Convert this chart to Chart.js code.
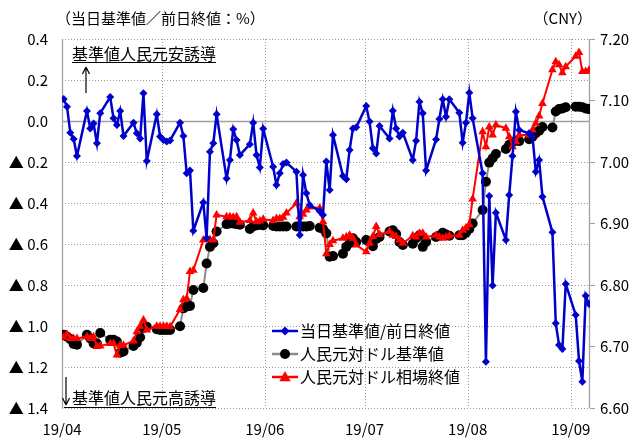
<!DOCTYPE html>
<html lang="ja">
<head>
<meta charset="UTF-8">
<title>人民元基準値と相場</title>
<script src="https://cdn.jsdelivr.net/npm/chart.js"></script>
<style>
  html, body { margin: 0; padding: 0; background: #fff; }
  #wrap { position: relative; width: 637px; height: 439px; }
</style>
</head>
<body>
<div id="wrap"><canvas id="myChart" width="637" height="439"></canvas></div>
<script>
// 営業日 (2019年)
const fechas = [
  '04/01','04/02','04/03','04/04','04/05', '04/08','04/09','04/10','04/11','04/12',
  '04/15','04/16','04/17','04/18','04/19', '04/22','04/23','04/24','04/25','04/26',
  '04/29','04/30','05/01','05/02','05/03', '05/06','05/07','05/08','05/09','05/10',
  '05/13','05/14','05/15','05/16','05/17', '05/20','05/21','05/22','05/23','05/24',
  '05/27','05/28','05/29','05/30','05/31', '06/03','06/04','06/05','06/06','06/07',
  '06/10','06/11','06/12','06/13','06/14', '06/17','06/18','06/19','06/20','06/21',
  '06/24','06/25','06/26','06/27','06/28', '07/01','07/02','07/03','07/04','07/05',
  '07/08','07/09','07/10','07/11','07/12', '07/15','07/16','07/17','07/18','07/19',
  '07/22','07/23','07/24','07/25','07/26', '07/29','07/30','07/31','08/01','08/02',
  '08/05','08/06','08/07','08/08','08/09', '08/12','08/13','08/14','08/15','08/16',
  '08/19','08/20','08/21','08/22','08/23', '08/26','08/27','08/28','08/29','08/30',
  '09/02','09/03','09/04','09/05','09/06'
];

// 当日基準値/前日終値 (%)
const kijunVsZenjitsu = [
  0.107, 0.07, -0.057, -0.088, -0.171,   0.049, -0.036, -0.012, -0.109, 0.038,
  0.117, 0.013, -0.02, 0.049, -0.073,    -0.008, -0.06, -0.085, 0.135, -0.195,
  0.033, -0.075, -0.093, -0.1, -0.095,   -0.008, -0.073, -0.255, -0.242, -0.535,
  -0.397, -0.572, -0.15, -0.109, 0.033,  -0.28, -0.19, -0.04, -0.093, -0.166,
  -0.113, -0.008, -0.166, -0.227, -0.038, -0.223, -0.312, -0.255, -0.21, -0.203,
  -0.247, -0.556, -0.263, -0.353, -0.41, -0.44, -0.459, -0.198, -0.337, -0.068,
  -0.268, -0.284, -0.141, -0.036, -0.031, 0.073, -0.003, -0.133, -0.158, -0.024,
  -0.085, 0.05, -0.036, -0.076, -0.057,  -0.19, -0.096, 0.094, 0.038, -0.242,
  -0.09, 0.01, 0.106, 0.021, 0.106,      0.04, -0.106, -0.008, 0.138, 0.013,
  -0.255, -1.174, -0.366, -0.803, -0.447, -0.58, -0.361, -0.171, 0.045, -0.044,
  -0.06, -0.076, -0.247, -0.19, -0.369,  -0.543, -0.987, -1.093, -1.112, -0.795,
  -0.946, -1.171, -1.272, -0.852, -0.893
];

// 人民元対ドル基準値 (CNY)
const kijunchi = [
  6.719, 6.716, 6.712, 6.704, 6.703,  6.719, 6.713, 6.705, 6.705, 6.722,
  6.711, 6.711, 6.708, 6.690, 6.692,  6.701, 6.706, 6.715, 6.730, 6.732,
  6.728, 6.727, 6.727, 6.727, 6.727,  6.733, 6.762, 6.765, 6.766, 6.792,
  6.795, 6.835, 6.862, 6.868, 6.887,  6.899, 6.900, 6.900, 6.899, 6.898,
  6.891, 6.895, 6.897, 6.898, 6.897,  6.896, 6.895, 6.895, 6.895, 6.895,
  6.895, 6.895, 6.895, 6.895, 6.896,  6.893, 6.891, 6.884, 6.846, 6.847,
  6.851, 6.862, 6.868, 6.876, 6.870,  6.873, 6.870, 6.863, 6.875, 6.878,
  6.887, 6.889, 6.883, 6.870, 6.865,  6.867, 6.876, 6.881, 6.862, 6.870,
  6.878, 6.880, 6.885, 6.882, 6.880,  6.881, 6.881, 6.885, 6.891, 6.900,
  6.922, 6.968, 6.999, 7.006, 7.013,  7.021, 7.028, 7.032, 7.035, 7.034,
  7.037, 7.041, 7.047, 7.051, 7.057,  7.056, 7.082, 7.086, 7.087, 7.089,
  7.090, 7.090, 7.089, 7.087, 7.086
];

// 人民元対ドル相場終値 (CNY)
const owarine = [
  6.715, 6.720, 6.713, 6.713, 6.713,  6.716, 6.713, 6.716, 6.700, 6.701,
  6.705, 6.705, 6.686, 6.702, 6.702,  6.709, 6.724, 6.733, 6.743, 6.727,
  6.733, 6.733, 6.733, 6.733, 6.732,  6.760, 6.776, 6.778, 6.822, 6.824,
  6.873, 6.876, 6.874, 6.873, 6.914,  6.911, 6.911, 6.910, 6.911, 6.902,
  6.905, 6.917, 6.903, 6.904, 6.907,  6.905, 6.908, 6.908, 6.910, 6.917,
  6.933, 6.911, 6.915, 6.922, 6.927,  6.925, 6.903, 6.851, 6.866, 6.872,
  6.876, 6.878, 6.881, 6.876, 6.865,  6.854, 6.868, 6.879, 6.895, 6.882,
  6.887, 6.881, 6.879, 6.873, 6.868,  6.880, 6.878, 6.884, 6.884, 6.878,
  6.881, 6.878, 6.876, 6.878, 6.880,  6.881, 6.889, 6.893, 6.898, 6.940,
  7.049, 7.025, 7.057, 7.044, 7.060,  7.055, 7.041, 7.025, 7.033, 7.044,
  7.044, 7.052, 7.063, 7.075, 7.095,  7.150, 7.163, 7.158, 7.145, 7.155,
  7.172, 7.178, 7.147, 7.147, 7.149
];

// 目盛 (月初)
const mesesFechas = ['04/01', '05/01', '06/01', '07/01', '08/01', '09/01'];
const mesesLabels = ['19/04', '19/05', '19/06', '19/07', '19/08', '19/09'];

const nombres = ['当日基準値/前日終値', '人民元対ドル基準値', '人民元対ドル相場終値'];

// 4/1 からの日数
function diaDesde(f) {
  const mm = parseInt(f.slice(0, 2), 10);
  const dd = parseInt(f.slice(3, 5), 10);
  return (Date.UTC(2019, mm - 1, dd) - Date.UTC(2019, 3, 1)) / 86400000;
}
const xs = fechas.map(f => diaDesde(f) + 0.5);
const mesesX = mesesFechas.map(diaDesde);

function puntos(vals) {
  return vals.map((v, i) => ({ x: xs[i], y: v }));
}

const AZUL = '#0000cc';
const GRIS = '#8c8c8c';
const ROJO = '#ff0000';
const REJILLA = '#9a9a9a';
const FUENTE = '"Noto Sans CJK JP", "Noto Sans", sans-serif';

Chart.defaults.font.family = FUENTE;
Chart.defaults.font.size = 15;
Chart.defaults.color = '#000';

function marcador(ctx, tipo, x, y, r, color) {
  ctx.save();
  ctx.fillStyle = color;
  ctx.beginPath();
  if (tipo === 'rectRot') {
    ctx.moveTo(x, y - r); ctx.lineTo(x + r, y); ctx.lineTo(x, y + r); ctx.lineTo(x - r, y);
  } else if (tipo === 'circle') {
    ctx.arc(x, y, r, 0, Math.PI * 2);
  } else {
    ctx.moveTo(x, y - r); ctx.lineTo(x + r * 0.95, y + r * 0.7); ctx.lineTo(x - r * 0.95, y + r * 0.7);
  }
  ctx.closePath();
  ctx.fill();
  ctx.restore();
}

const extras = {
  id: 'extras',
  beforeDatasetsDraw(chart) {
    const ctx = chart.ctx;
    const a = chart.chartArea;
    const sx = chart.scales.x;
    const sy = chart.scales.y;
    ctx.save();
    // 点線グリッド (目盛位置から)
    ctx.strokeStyle = REJILLA;
    ctx.lineWidth = 1;
    ctx.setLineDash([1, 2]);
    ctx.beginPath();
    sy.ticks.forEach(t => {
      const yy = Math.round(sy.getPixelForValue(t.value)) + 0.5;
      ctx.moveTo(a.left, yy); ctx.lineTo(a.right, yy);
    });
    sx.ticks.forEach(t => {
      const xx = Math.round(sx.getPixelForValue(t.value)) + 0.5;
      ctx.moveTo(xx, a.top); ctx.lineTo(xx, a.bottom);
    });
    ctx.stroke();
    ctx.setLineDash([]);
    // 0 の線と軸線
    const y0 = Math.round(sy.getPixelForValue(0)) + 0.5;
    ctx.strokeStyle = '#a0a0a0';
    ctx.lineWidth = 1.3;
    ctx.beginPath();
    ctx.moveTo(a.left, y0); ctx.lineTo(a.right, y0);
    ctx.moveTo(a.left + 0.5, a.top); ctx.lineTo(a.left + 0.5, a.bottom);
    ctx.moveTo(a.right - 0.5, a.top); ctx.lineTo(a.right - 0.5, a.bottom);
    ctx.stroke();
    ctx.restore();
  },
  afterDraw(chart) {
    const ctx = chart.ctx;
    ctx.save();
    ctx.fillStyle = '#000';
    ctx.textBaseline = 'middle';

    // 単位
    ctx.font = '15px ' + FUENTE;
    ctx.textAlign = 'left';
    ctx.fillText('（当日基準値／前日終値：%）', 56, 18);
    ctx.textAlign = 'right';
    ctx.fillText('（CNY）', 592, 18);

    // 注記
    ctx.font = '16px ' + FUENTE;
    ctx.textAlign = 'left';
    const t1 = '基準値人民元安誘導';
    const t2 = '基準値人民元高誘導';
    ctx.fillText(t1, 72, 54);
    ctx.fillText(t2, 72, 398);
    ctx.strokeStyle = '#000';
    ctx.lineWidth = 1.2;
    ctx.beginPath();
    ctx.moveTo(72, 62.5); ctx.lineTo(72 + ctx.measureText(t1).width, 62.5);
    ctx.moveTo(64, 407.5); ctx.lineTo(72 + ctx.measureText(t2).width, 407.5);
    // 矢印
    ctx.moveTo(86, 93); ctx.lineTo(86, 67);
    ctx.moveTo(86, 67); ctx.lineTo(82.5, 74);
    ctx.moveTo(86, 67); ctx.lineTo(89.5, 74);
    ctx.moveTo(66, 377); ctx.lineTo(66, 405);
    ctx.moveTo(66, 405); ctx.lineTo(62.5, 398);
    ctx.moveTo(66, 405); ctx.lineTo(69.5, 398);
    ctx.stroke();

    // 凡例
    const filas = [331, 354, 377];
    const colores = [[AZUL, AZUL, 'rectRot', 4.5], [GRIS, '#000', 'circle', 5], [ROJO, ROJO, 'triangle', 6]];
    ctx.font = '16px ' + FUENTE;
    filas.forEach((yy, i) => {
      ctx.strokeStyle = colores[i][0];
      ctx.lineWidth = 2.5;
      ctx.beginPath();
      ctx.moveTo(272, yy); ctx.lineTo(298, yy);
      ctx.stroke();
      marcador(ctx, colores[i][2], 285, yy, colores[i][3], colores[i][1]);
      ctx.fillStyle = '#000';
      ctx.fillText(nombres[i], 300, yy);
    });
    ctx.restore();
  }
};

const config = {
  type: 'line',
  data: {
    datasets: [
      {
        label: nombres[0],
        data: puntos(kijunVsZenjitsu),
        yAxisID: 'y',
        borderColor: AZUL,
        backgroundColor: AZUL,
        borderWidth: 2.5,
        pointStyle: 'rectRot',
        pointRadius: 4,
        pointBorderWidth: 0,
        order: 0
      },
      {
        label: nombres[1],
        data: puntos(kijunchi),
        yAxisID: 'y1',
        borderColor: GRIS,
        backgroundColor: '#000',
        borderWidth: 2,
        pointStyle: 'circle',
        pointRadius: 5,
        pointBorderWidth: 0,
        order: 2
      },
      {
        label: nombres[2],
        data: puntos(owarine),
        yAxisID: 'y1',
        borderColor: ROJO,
        backgroundColor: ROJO,
        borderWidth: 2,
        pointStyle: 'triangle',
        pointRadius: 5,
        pointBorderWidth: 0,
        order: 1
      }
    ]
  },
  options: {
    responsive: false,
    animation: false,
    layout: { padding: { top: 39, left: 0, right: 0, bottom: 0 } },
    plugins: { legend: { display: false }, tooltip: { enabled: false } },
    elements: { line: { tension: 0 } },
    scales: {
      x: {
        type: 'linear',
        min: 0,
        max: 158.8,
        afterBuildTicks: s => { s.ticks = mesesX.map(v => ({ value: v })); },
        afterFit: s => { s.height = 31; },
        ticks: {
          padding: 12,
          maxRotation: 0,
          autoSkip: false,
          callback: v => mesesLabels[mesesX.indexOf(v)]
        },
        grid: { display: false, drawTicks: false },
        border: { display: false }
      },
      y: {
        position: 'left',
        min: -1.4,
        max: 0.4,
        afterFit: s => { s.width = 62; },
        ticks: {
          stepSize: 0.2,
          padding: 14,
          callback: v => {
            const r = Math.round(v * 10) / 10;
            return r < 0 ? '▲ ' + Math.abs(r).toFixed(1) : Math.abs(r).toFixed(1);
          }
        },
        grid: { display: false, drawTicks: false },
        border: { display: false }
      },
      y1: {
        position: 'right',
        min: 6.6,
        max: 7.2,
        afterFit: s => { s.width = 47; },
        ticks: {
          stepSize: 0.1,
          padding: 5,
          callback: v => v.toFixed(2)
        },
        grid: { drawOnChartArea: false, drawTicks: true, tickLength: 5, color: '#a0a0a0' },
        border: { display: false }
      }
    }
  },
  plugins: [extras]
};

let myChart = new Chart(document.getElementById('myChart'), config);
</script>
</body>
</html>
